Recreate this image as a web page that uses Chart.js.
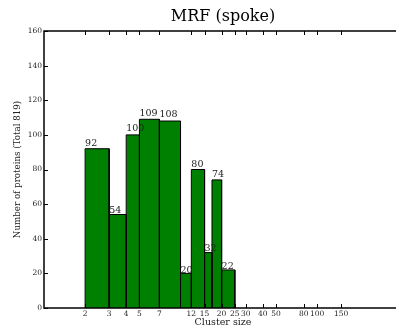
<!DOCTYPE html>
<html lang="en">
<head>
  <meta charset="UTF-8">
  <title>MRF (spoke)</title>
  <script src="https://cdn.jsdelivr.net/npm/chart.js@4.4.0/dist/chart.umd.min.js"></script>
  <style>
    html, body { margin: 0; padding: 0; background: #fff; }
    #wrap { width: 396px; height: 333px; overflow: hidden; }
    #wrap div { width: 402px; height: 333px; }
  </style>
</head>
<body>
  <div id="wrap"><div><canvas id="chart"></canvas></div></div>

  <script>
    // histogram bins (cluster size edges) and protein counts per bin
    const binEdges = [2, 3, 4, 5, 7, 10, 12, 15, 17, 20, 25];
    const counts = [92, 54, 100, 109, 108, 20, 80, 32, 74, 22];
    const xTicks = [2, 3, 4, 5, 7, 12, 15, 20, 25, 30, 40, 50, 80, 100, 150];
    const yTicks = [0, 20, 40, 60, 80, 100, 120, 140, 160];

    const SERIF = '"DejaVu Serif", serif';
    const INK = '#222';

    // each bar is a step outline filled down to zero
    const datasets = counts.map((c, i) => ({
      data: [
        { x: binEdges[i], y: 0 },
        { x: binEdges[i], y: c },
        { x: binEdges[i + 1], y: c },
        { x: binEdges[i + 1], y: 0 }
      ],
      borderColor: '#000',
      borderWidth: 1,
      backgroundColor: '#008000',
      fill: 'origin',
      pointRadius: 0,
      tension: 0
    }));

    // frame + inward ticks, matplotlib style
    const framePlugin = {
      id: 'frame',
      afterDatasetsDraw(chart) {
        const { ctx, chartArea: a, scales: { x, y } } = chart;
        ctx.save();
        ctx.strokeStyle = '#000';
        ctx.lineWidth = 1;
        ctx.beginPath();
        xTicks.forEach(v => {
          const px = Math.round(x.getPixelForValue(v)) + 0.5;
          ctx.moveTo(px, a.bottom); ctx.lineTo(px, a.bottom - 4);
          ctx.moveTo(px, a.top); ctx.lineTo(px, a.top + 4);
        });
        yTicks.forEach(v => {
          const py = Math.round(y.getPixelForValue(v)) + 0.5;
          ctx.moveTo(a.left, py); ctx.lineTo(a.left + 4, py);
          ctx.moveTo(a.right, py); ctx.lineTo(a.right - 4, py);
        });
        ctx.stroke();
        ctx.lineWidth = 1.5;
        ctx.strokeRect(a.left, a.top, a.right - a.left, a.bottom - a.top);

        // count labels, left-aligned on each bar
        ctx.fillStyle = INK;
        ctx.font = '9.5px ' + SERIF;
        ctx.textAlign = 'left';
        ctx.textBaseline = 'alphabetic';
        counts.forEach((c, i) => {
          ctx.fillText(String(c), x.getPixelForValue(binEdges[i]), y.getPixelForValue(c * 1.02));
        });
        ctx.restore();
      }
    };

    new Chart(document.getElementById('chart'), {
      type: 'line',
      data: { datasets },
      options: {
        responsive: true,
        maintainAspectRatio: false,
        animation: false,
        layout: { padding: 0 },
        plugins: {
          legend: { display: false },
          tooltip: { enabled: false },
          title: {
            display: true,
            text: 'MRF (spoke)',
            fullSize: false,
            color: '#000',
            font: { family: SERIF, size: 16, weight: 'normal' },
            padding: { top: 7, bottom: 4.8 }
          }
        },
        scales: {
          x: {
            type: 'logarithmic',
            min: 1,
            max: 419,
            afterBuildTicks: s => { s.ticks = xTicks.map(v => ({ value: v })); },
            afterFit: s => { s.height = 25; },
            grid: { display: false, drawTicks: false },
            border: { display: false },
            ticks: {
              autoSkip: false,
              maxRotation: 0,
              padding: 2,
              color: INK,
              font: { family: SERIF, size: 7.5 },
              callback: v => String(v)
            },
            title: {
              display: true,
              text: 'Cluster size',
              color: INK,
              font: { family: SERIF, size: 9.5 },
              padding: { top: 0, bottom: 4.6 }
            }
          },
          y: {
            min: 0,
            max: 160,
            afterBuildTicks: s => { s.ticks = yTicks.map(v => ({ value: v })); },
            afterFit: s => { s.width = 44; },
            grid: { display: false, drawTicks: false },
            border: { display: false },
            ticks: {
              padding: 2,
              color: INK,
              font: { family: SERIF, size: 7.5 }
            },
            title: {
              display: true,
              text: 'Number of proteins (Total 819)',
              color: INK,
              font: { family: SERIF, size: 8.7 },
              padding: { top: 12.8, bottom: 0 }
            }
          }
        }
      },
      plugins: [framePlugin]
    });
  </script>
</body>
</html>
